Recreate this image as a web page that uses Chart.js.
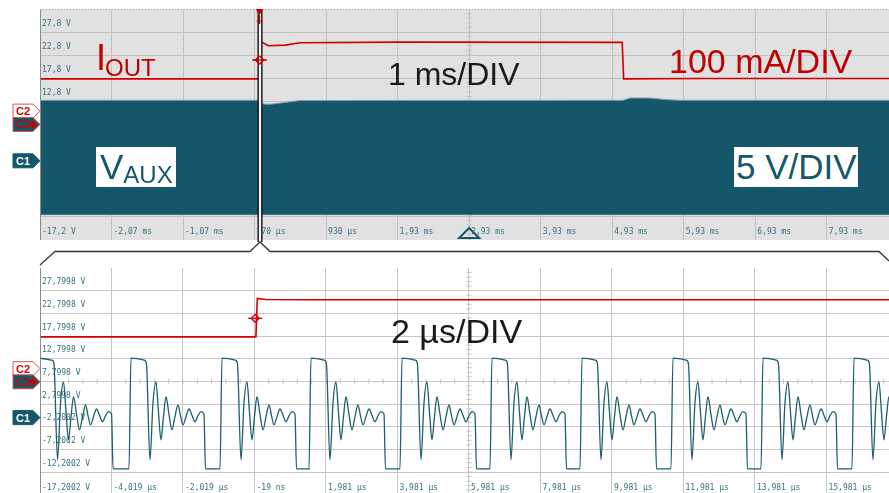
<!DOCTYPE html>
<html>
<head>
<meta charset="utf-8">
<script src="https://cdn.jsdelivr.net/npm/chart.js@4.4.0/dist/chart.umd.min.js"></script>
<style>
  body { margin: 0; background: #fff; width: 889px; height: 493px; overflow: hidden; position: relative; font-family: 'Liberation Sans', Arial, sans-serif; }
  canvas { position: absolute; left: 0; }
  #topChart { top: 0; }
  #zoomChart { top: 244px; }
  #bracket { position: absolute; left: 0; top: 0; }
  .note { position: absolute; white-space: nowrap; line-height: 1; }
  .box { position: absolute; background: #fff; color: #15576a; height: 40px; line-height: 40px; white-space: nowrap; }
</style>
</head>
<body>
<canvas id="topChart" width="889" height="244"></canvas>
<canvas id="zoomChart" width="889" height="249"></canvas>
<svg id="bracket" width="889" height="493">
  <polyline points="40,265 55,251.5 250,251.5 260,242 270,251.5 879,251.5 889,261" fill="none" stroke="#333" stroke-width="1.3"/>
</svg>

<div class="note" style="left:96px;top:40px;font-size:36px;color:#c00000">I</div>
<div class="note" style="left:105px;top:56px;font-size:24px;color:#c00000">OUT</div>
<div class="note" style="left:388px;top:58px;font-size:32px;color:#1a1a1a">1 ms/DIV</div>
<div class="note" style="left:669px;top:44px;font-size:34px;color:#c00000">100 mA/DIV</div>
<div class="box" style="left:96px;top:147px;width:80px;padding-left:4px;box-sizing:border-box"><span style="font-size:35px">V</span><span style="font-size:24px;vertical-align:-4px">AUX</span></div>
<div class="box" style="left:734px;top:147px;width:124px;padding-left:2px;box-sizing:border-box;font-size:35px">5 V/DIV</div>
<div class="note" style="left:391px;top:314px;font-size:34px;color:#1a1a1a">2 µs/DIV</div>

<script>

// Graduations verticales communes (V affichés)
const levelValues = [27.8, 22.8, 17.8, 12.8, 7.8, 2.8, -2.2, -7.2, -12.2];

// Vue large : 1 ms/div, temps en ms
const topTimeMin = -3.07;
const topTimeMax = 8.80;
const topTickTimes = [-3.07, -2.07, -1.07, -0.07, 0.93, 1.93, 2.93, 3.93, 4.93, 5.93, 6.93, 7.93];
const topTickLabels = ['-17,2 V', '-2,07 ms', '-1,07 ms', '-70 µs', '930 µs', '1,93 ms', '2,93 ms', '3,93 ms', '4,93 ms', '5,93 ms', '6,93 ms', '7,93 ms'];
const topLevelLabels = ['27,8 V', '22,8 V', '17,8 V', '12,8 V', '7,8 V', '2,8 V', '-2,2 V', '-7,2 V', '-12,2 V'];

// IOUT (voie C2)
const topIoutTime  = [-3.07, 0.007, 0.021, 0.119, 0.357, 0.566, 1.97, 5.07, 5.09, 6.16, 8.80];
const topIoutValue = [17.6, 17.6, 25.7, 24.8, 24.95, 25.45, 25.6, 25.55, 17.6, 17.7, 17.7];

// VAUX (voie C1) : enveloppe haute et basse de la commutation
const topVauxTime = [-3.07, 0.007, 0.049, 0.147, 0.357, 0.566, 5.08, 5.18, 5.46, 5.67, 5.88, 8.80];
const topVauxHigh = [12.95, 12.95, 12.15, 12.1, 12.5, 12.9, 12.95, 13.45, 13.45, 13.1, 12.95, 12.95];
const topVauxLow  = [-11.9, -11.9, -11.9, -11.9, -11.9, -11.9, -11.9, -11.9, -11.9, -11.9, -11.9, -11.9];

// Vue zoomée : 2 µs/div, temps en µs
const zoomTimeMin = -6.019;
const zoomTimeMax = 17.73;
const zoomTickTimes = [-6.019, -4.019, -2.019, -0.019, 1.981, 3.981, 5.981, 7.981, 9.981, 11.981, 13.981, 15.981];
const zoomTickLabels = ['-17,2002 V', '-4,019 µs', '-2,019 µs', '-19 ns', '1,981 µs', '3,981 µs', '5,981 µs', '7,981 µs', '9,981 µs', '11,981 µs', '13,981 µs', '15,981 µs'];
const zoomLevelLabels = ['27,7998 V', '22,7998 V', '17,7998 V', '12,7998 V', '7,7998 V', '2,7998 V', '-2,2002 V', '-7,2002 V', '-12,2002 V'];

const zoomIoutTime  = [-6.019, 0.02, 0.06, 0.3, 1.5, 17.73];
const zoomIoutValue = [17.6, 17.6, 26.1, 25.85, 25.8, 25.8];

// fronts montants de VAUX, puis forme d'un cycle (décalage µs / V)
const zoomPulseStarts = [-6.06, -3.474, -0.928, 1.561, 4.107, 6.624, 9.142, 11.687, 14.205, 16.75];
const zoomRingOffset = [-0.056, 0, 0.392, 0.434, 0.531, 0.615, 0.699, 0.769, 0.839, 0.909, 0.979, 1.063, 1.147, 1.231, 1.315, 1.385, 1.454, 1.538, 1.622, 1.706, 1.790, 1.874, 1.958, 2.042, 2.084, 2.462];
const zoomRingValue  = [-11.5, 12.9, 12.4, 11.5, -9.5, 3, 7.7, 1, -5.1, 0, 4.4, 0.5, -2.9, 0, 2.6, 0.2, -1.8, 0, 1.7, 0.3, -1.1, 0.2, 1.1, 0.6, -11.5, -11.5];

// repères de voies et de déclenchement
const ch2Offset = 10.6;
const ch2Ground = 7.7;
const ch1Offset = -0.2;
const triggerLevel = 21.7;
const triggerTime = 0;

const TEAL = '#15576a';
const RED = '#d00000';
const LABEL = '#3b7081';

function pts(xs, ys) {
    return xs.map((x, i) => ({ x: x, y: ys[i] }));
}

const zoomVauxPoints = [];
zoomPulseStarts.forEach(t0 => {
    zoomRingOffset.forEach((dt, i) => zoomVauxPoints.push({ x: t0 + dt, y: zoomRingValue[i] }));
});

// Etiquette de voie dans la marge gauche
function drawTag(ctx, y, fill, stroke, text, textColor, diamond) {
    ctx.beginPath();
    ctx.moveTo(13, y - 7);
    ctx.lineTo(33, y - 7);
    ctx.lineTo(40, y);
    ctx.lineTo(33, y + 7);
    ctx.lineTo(13, y + 7);
    ctx.closePath();
    ctx.fillStyle = fill;
    ctx.fill();
    ctx.strokeStyle = stroke;
    ctx.lineWidth = 1;
    ctx.stroke();
    ctx.fillStyle = textColor;
    ctx.font = 'bold 11px "Liberation Sans", Arial, sans-serif';
    ctx.textBaseline = 'middle';
    ctx.textAlign = 'left';
    ctx.fillText(text, 16, y + 1);
    if (diamond) {
        ctx.beginPath();
        ctx.moveTo(33, y - 4); ctx.lineTo(37, y); ctx.lineTo(33, y + 4); ctx.lineTo(29, y);
        ctx.closePath();
        ctx.fillStyle = RED;
        ctx.fill();
    }
}

function drawDiamond(ctx, x, y) {
    ctx.strokeStyle = RED;
    ctx.lineWidth = 1.3;
    ctx.beginPath();
    ctx.moveTo(x - 7, y); ctx.lineTo(x + 7, y);
    ctx.stroke();
    ctx.beginPath();
    ctx.moveTo(x, y - 4); ctx.lineTo(x + 4, y); ctx.lineTo(x, y + 4); ctx.lineTo(x - 4, y);
    ctx.closePath();
    ctx.stroke();
}

// Décor de l'écran : fond, graduations fines, repères
const scopeDeco = {
    id: 'scopeDeco',
    beforeDraw(chart, args, o) {
        const { ctx, chartArea: a } = chart;
        ctx.save();
        ctx.fillStyle = o.plotBg;
        ctx.fillRect(a.left, a.top, a.right - a.left, a.bottom - a.top);
        ctx.fillStyle = o.stripBg;
        ctx.fillRect(a.left, a.bottom, a.right - a.left, o.stripH);
        ctx.restore();
    },
    beforeDatasetsDraw(chart, args, o) {
        const { ctx, chartArea: a, scales: { x, y } } = chart;
        const cx = x.getPixelForValue(o.centerTime);
        const cy = y.getPixelForValue(o.centerLevel);
        const stepX = (x.getPixelForValue(o.centerTime + o.divTime) - cx) / 5;
        const stepY = (y.getPixelForValue(o.centerLevel - 5) - cy) / 5;
        ctx.save();
        ctx.strokeStyle = o.gridColor;
        ctx.lineWidth = 1;
        ctx.beginPath();
        for (let k = -80; k <= 80; k++) {
            const px = cx + k * stepX;
            if (px > a.left && px < a.right) {
                ctx.moveTo(px, cy - 2.5); ctx.lineTo(px, cy + 2.5);
            }
            const py = cy + k * stepY;
            if (py > a.top && py < a.bottom + o.stripH) {
                ctx.moveTo(cx - 2.5, py); ctx.lineTo(cx + 2.5, py);
            }
        }
        ctx.stroke();
        ctx.restore();
    },
    afterDraw(chart, args, o) {
        const { ctx, chartArea: a, scales: { x, y } } = chart;
        ctx.save();
        // bord gauche
        ctx.strokeStyle = '#8a8a8a';
        ctx.lineWidth = 1;
        ctx.beginPath();
        ctx.moveTo(a.left + 0.5, a.top); ctx.lineTo(a.left + 0.5, a.bottom + o.stripH);
        ctx.stroke();
        if (o.topDotted) {
            ctx.setLineDash([1, 2]);
            ctx.strokeStyle = '#999';
            ctx.beginPath();
            ctx.moveTo(a.left, a.top + 0.5); ctx.lineTo(a.right, a.top + 0.5);
            ctx.stroke();
            ctx.setLineDash([]);
        }
        // étiquettes de voies
        drawTag(ctx, y.getPixelForValue(ch2Offset), '#fff', '#e05050', 'C2', RED, false);
        drawTag(ctx, y.getPixelForValue(ch2Ground), TEAL, '#e05050', 'C2', RED, true);
        drawTag(ctx, y.getPixelForValue(ch1Offset), TEAL, TEAL, 'C1', '#fff', false);
        // niveau de déclenchement
        const tx = x.getPixelForValue(triggerTime);
        drawDiamond(ctx, tx, y.getPixelForValue(triggerLevel));
        if (o.cursor) {
            const x1 = x.getPixelForValue(zoomTimeMin / 1000) - 1;
            const x2 = x.getPixelForValue(zoomTimeMax / 1000) + 1;
            const yEnd = a.bottom + o.stripH + 2;
            ctx.fillStyle = '#f4f4f4';
            ctx.fillRect(x1, a.top, x2 - x1, yEnd - a.top);
            ctx.strokeStyle = '#111';
            ctx.lineWidth = 1.4;
            ctx.beginPath();
            ctx.moveTo(x1, a.top); ctx.lineTo(x1, yEnd);
            ctx.moveTo(x2, a.top); ctx.lineTo(x2, yEnd);
            ctx.stroke();
            // repère de déclenchement en haut
            ctx.fillStyle = RED;
            ctx.beginPath();
            ctx.moveTo(tx - 4, a.top); ctx.lineTo(tx + 4, a.top); ctx.lineTo(tx, a.top + 6);
            ctx.closePath();
            ctx.fill();
            ctx.strokeStyle = RED;
            ctx.lineWidth = 1.2;
            ctx.beginPath();
            ctx.moveTo(tx, a.top + 6); ctx.lineTo(tx, a.top + 15);
            ctx.moveTo(tx - 3, a.top + 12); ctx.lineTo(tx + 3, a.top + 12);
            ctx.stroke();
            drawDiamond(ctx, tx, y.getPixelForValue(triggerLevel));
        }
        if (o.posMarker) {
            const px = x.getPixelForValue(o.centerTime);
            ctx.strokeStyle = TEAL;
            ctx.lineWidth = 2;
            ctx.beginPath();
            ctx.moveTo(px, a.bottom + 12); ctx.lineTo(px + 10, a.bottom + 22); ctx.lineTo(px - 10, a.bottom + 22);
            ctx.closePath();
            ctx.stroke();
        }
        ctx.restore();
    }
};

function scopeChart(id, c) {
    return new Chart(document.getElementById(id), {
        type: 'line',
        data: { datasets: c.datasets },
        options: {
            responsive: false,
            animation: false,
            events: [],
            layout: { padding: { left: 40, right: 0, top: c.padTop, bottom: c.padBottom } },
            plugins: {
                legend: { display: false },
                tooltip: { enabled: false },
                scopeDeco: c.deco
            },
            elements: { point: { radius: 0 } },
            scales: {
                x: {
                    type: 'linear',
                    min: c.xMin,
                    max: c.xMax,
                    afterBuildTicks: s => { s.ticks = c.xTicks.map(v => ({ value: v })); },
                    afterFit: s => { s.height = c.deco.stripH; },
                    grid: { color: c.deco.gridColor, tickLength: c.deco.stripH, drawTicks: true },
                    border: { display: false },
                    ticks: {
                        align: 'start',
                        labelOffset: 2,
                        padding: c.labelPad,
                        maxRotation: 0,
                        autoSkip: false,
                        color: LABEL,
                        font: { family: "'DejaVu Sans Mono', monospace", size: 8 },
                        callback: (v, i) => c.xLabels[i]
                    }
                },
                y: {
                    min: -12.2,
                    max: 32.8,
                    afterBuildTicks: s => { s.ticks = levelValues.map(v => ({ value: v })); },
                    afterFit: s => { s.width = 0; },
                    grid: { color: c.deco.gridColor, drawTicks: false },
                    border: { display: false },
                    ticks: {
                        mirror: true,
                        padding: 2,
                        labelOffset: -8.5,
                        color: LABEL,
                        font: { family: "'DejaVu Sans Mono', monospace", size: 8 },
                        callback: (v, i) => c.yLabels[i]
                    }
                }
            }
        },
        plugins: [scopeDeco]
    });
}

// Vue large
scopeChart('topChart', {
    padTop: 9,
    padBottom: 4,
    labelPad: -13,
    xMin: topTimeMin,
    xMax: topTimeMax,
    xTicks: topTickTimes,
    xLabels: topTickLabels,
    yLabels: topLevelLabels,
    deco: { plotBg: '#e1e1e1', stripBg: '#e1e1e1', stripH: 24, gridColor: '#c2c2c2', centerTime: 2.93, divTime: 1, centerLevel: 7.8, topDotted: true, cursor: true, posMarker: true },
    datasets: [
        { data: pts(topIoutTime, topIoutValue), borderColor: RED, borderWidth: 1.6, tension: 0, fill: false },
        { data: pts(topVauxTime, topVauxHigh), borderColor: '#7f9cb4', borderWidth: 1, backgroundColor: TEAL, fill: '+1', tension: 0 },
        { data: pts(topVauxTime, topVauxLow), borderColor: '#6f8fa8', borderWidth: 1, fill: false, tension: 0 }
    ]
});

// Vue zoomée
scopeChart('zoomChart', {
    padTop: 24,
    padBottom: 0,
    labelPad: -10,
    xMin: zoomTimeMin,
    xMax: zoomTimeMax,
    xTicks: zoomTickTimes,
    xLabels: zoomTickLabels,
    yLabels: zoomLevelLabels,
    deco: { plotBg: '#ffffff', stripBg: '#ffffff', stripH: 21, gridColor: '#c6c6c6', centerTime: 5.981, divTime: 2, centerLevel: 7.8, topDotted: false, cursor: false, posMarker: false },
    datasets: [
        { data: pts(zoomIoutTime, zoomIoutValue), borderColor: RED, borderWidth: 1.6, tension: 0, fill: false },
        { data: zoomVauxPoints, borderColor: '#1d5e6f', borderWidth: 1.3, cubicInterpolationMode: 'monotone', fill: false }
    ]
});
</script>
</body>
</html>
